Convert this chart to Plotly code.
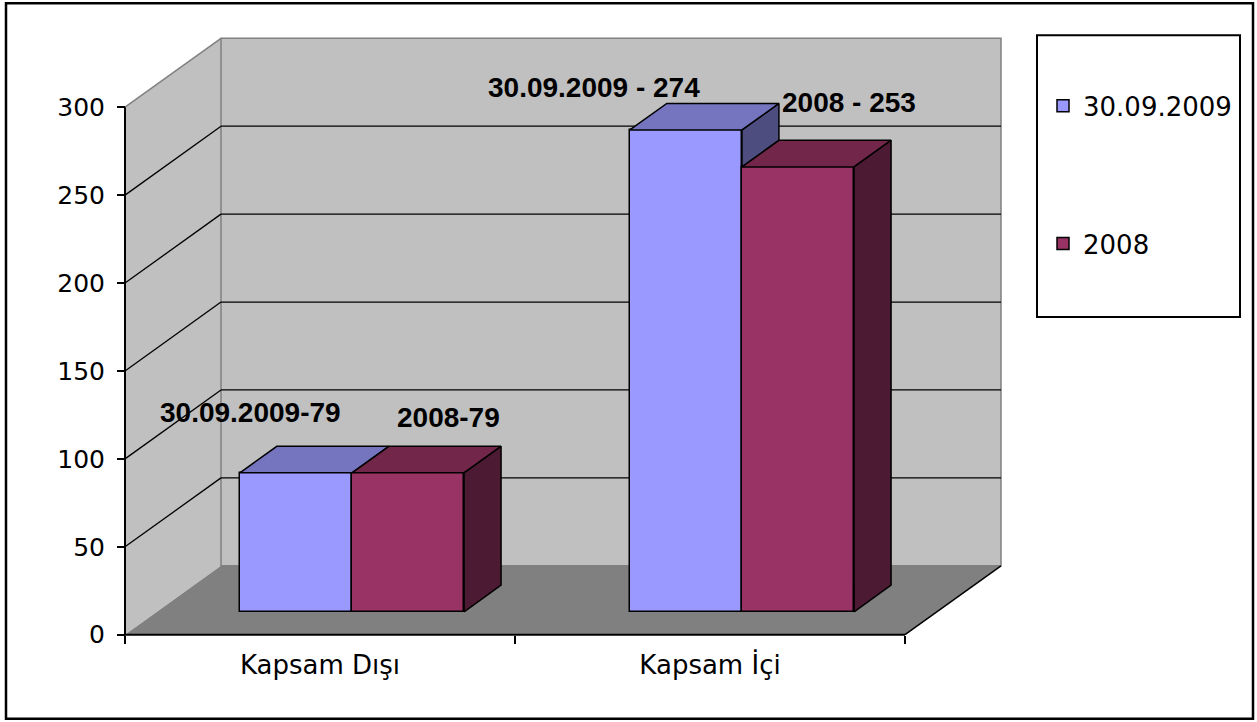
import plotly.graph_objects as go

# ---------------- data ----------------
categories = ["Kapsam Dışı", "Kapsam İçi"]
series_names = ["30.09.2009", "2008"]
values_2009 = [79, 274]
values_2008 = [79, 253]
label_separators = ["-", " - "]
y_ticks = [0, 50, 100, 150, 200, 250, 300]

# label offsets (pixels) from the centre of each bar's top face
label_shift_2009 = [(-64, 47), (-110, 29)]
label_shift_2008 = [(22, 42), (32, 51)]

# ---------------- geometry / style ----------------
W, H = 1257, 722
ORIGIN_PX = (125, 635)        # pixel of front-plane (0, 0)
SX, SY = 1.0, 1.76            # pixels per x unit / per value unit
XW = 780.0                    # front-plane width (x units)
DX, DY = 96.0, 39.2           # depth offset of back wall (x units / value units)
YMAX = 300
D1, D2 = 0.333, 0.718         # bar front / back depth (fraction of full depth)
GROUP = 0.575                 # group width as fraction of category width

x_min, x_max = -5.0, XW + DX + 5
y_min, y_max = -3.0, YMAX + DY + 3

L = ORIGIN_PX[0] + x_min * SX
PW = (x_max - x_min) * SX
R = W - L - PW
B = H - (ORIGIN_PX[1] - y_min * SY)
PH = (y_max - y_min) * SY
T = H - B - PH

def px_x(px):
    return (px - L) / PW

def px_y(py):
    return 1 - (py - T) / PH

WALL = "#C0C0C0"
FLOOR = "#808080"
EDGE = "#808080"
colors = {
    "30.09.2009": ("#9999FF", "#7474BF", "#4D4D80"),
    "2008": ("#993366", "#722649", "#4C1A33"),
}

cat_w = XW / len(categories)
centers = [cat_w * (i + 0.5) for i in range(len(categories))]
bar_w = cat_w * GROUP / 2

fig = go.Figure()

# ---------------- walls, floor and grid (shapes below traces) ----------------
shapes = []
shapes.append(dict(type="path", xref="x", yref="y", layer="below",
                   path=f"M0,0 L{DX},{DY} L{DX},{YMAX+DY} L0,{YMAX} Z",
                   fillcolor=WALL, line=dict(width=0)))
shapes.append(dict(type="rect", xref="x", yref="y", layer="below",
                   x0=DX, y0=DY, x1=XW + DX, y1=YMAX + DY,
                   fillcolor=WALL, line=dict(color=EDGE, width=1.5)))
shapes.append(dict(type="line", xref="x", yref="y", layer="below",
                   x0=0, y0=YMAX, x1=DX, y1=YMAX + DY, line=dict(color=EDGE, width=1.5)))
shapes.append(dict(type="path", xref="x", yref="y", layer="below",
                   path=f"M0,0 L{XW},0 L{XW+DX},{DY} L{DX},{DY} Z",
                   fillcolor=FLOOR, line=dict(width=0)))
for t in y_ticks[1:-1]:
    shapes.append(dict(type="line", xref="x", yref="y", layer="below",
                       x0=0, y0=t, x1=DX, y1=t + DY, line=dict(color="black", width=1.3)))
    shapes.append(dict(type="line", xref="x", yref="y", layer="below",
                       x0=DX, y0=t + DY, x1=XW + DX, y1=t + DY, line=dict(color="black", width=1.3)))
shapes.append(dict(type="line", xref="x", yref="y", layer="below",
                   x0=XW, y0=0, x1=XW + DX, y1=DY, line=dict(color="black", width=1.5)))
shapes.append(dict(type="line", xref="x", yref="y", layer="below",
                   x0=0, y0=0, x1=0, y1=YMAX, line=dict(color="black", width=2)))
shapes.append(dict(type="line", xref="x", yref="y", layer="below",
                   x0=0, y0=0, x1=XW, y1=0, line=dict(color="black", width=2)))
# legend frame and outer frame
shapes.append(dict(type="rect", xref="paper", yref="paper",
                   x0=px_x(1037), y0=px_y(317), x1=px_x(1240), y1=px_y(35),
                   line=dict(color="black", width=2), fillcolor="rgba(0,0,0,0)"))
shapes.append(dict(type="rect", xref="paper", yref="paper",
                   x0=px_x(6), y0=px_y(719), x1=px_x(1253), y1=px_y(3),
                   line=dict(color="black", width=2.5), fillcolor="rgba(0,0,0,0)"))

# ---------------- bars ----------------
series = [("30.09.2009", values_2009, -1), ("2008", values_2008, 1)]

def bar_span(i, side):
    c = centers[i]
    return (c - bar_w, c) if side < 0 else (c, c + bar_w)

# front faces as bar traces
for name, vals, side in series:
    xs = [sum(bar_span(i, side)) / 2 + D1 * DX for i in range(len(categories))]
    fig.add_trace(go.Bar(
        x=xs, y=vals, base=[D1 * DY] * len(vals), width=bar_w,
        name=name, legendgroup=name,
        marker=dict(color=colors[name][0], line=dict(color="black", width=1.5)),
        hoverinfo="skip"))

def poly(xs, ys, color):
    fig.add_trace(go.Scatter(x=xs + [xs[0]], y=ys + [ys[0]], mode="lines", fill="toself",
                             fillcolor=color, line=dict(color="black", width=1.5),
                             showlegend=False, hoverinfo="skip"))

# visible part of first series' side faces (above the neighbouring bar)
for i in range(len(categories)):
    v, nxt = values_2009[i], values_2008[i]
    if v > nxt:
        _, xr = bar_span(i, -1)
        poly([xr + D1 * DX, xr + D1 * DX, xr + D2 * DX, xr + D2 * DX],
             [nxt + D1 * DY, v + D1 * DY, v + D2 * DY, nxt + D2 * DY], colors["30.09.2009"][2])

# top faces and outer side faces
for name, vals, side in series:
    for i, v in enumerate(vals):
        xl, xr = bar_span(i, side)
        poly([xl + D1 * DX, xr + D1 * DX, xr + D2 * DX, xl + D2 * DX],
             [v + D1 * DY, v + D1 * DY, v + D2 * DY, v + D2 * DY], colors[name][1])
for i, v in enumerate(values_2008):
    xl, xr = bar_span(i, 1)
    poly([xr + D1 * DX, xr + D1 * DX, xr + D2 * DX, xr + D2 * DX],
         [D1 * DY, v + D1 * DY, v + D2 * DY, D2 * DY], colors["2008"][2])

# ---------------- data labels ----------------
annotations = []
for name, vals, side, shifts in [("30.09.2009", values_2009, -1, label_shift_2009),
                                 ("2008", values_2008, 1, label_shift_2008)]:
    for i, v in enumerate(vals):
        xl, xr = bar_span(i, side)
        dm = (D1 + D2) / 2
        annotations.append(dict(
            x=(xl + xr) / 2 + dm * DX, y=v + dm * DY, xref="x", yref="y",
            text=f"<b>{name}{label_separators[i]}{v}</b>", showarrow=False,
            xanchor="center", yanchor="middle",
            xshift=shifts[i][0], yshift=shifts[i][1],
            font=dict(family="Liberation Sans, Arial", size=28, color="black")))

fig.update_layout(
    width=W, height=H,
    margin=dict(l=L, r=R, t=T, b=B, autoexpand=False),
    paper_bgcolor="white", plot_bgcolor="white",
    barmode="overlay", bargap=0,
    shapes=shapes, annotations=annotations,
    showlegend=True,
    legend=dict(x=px_x(1043), xanchor="left", y=px_y(82), yanchor="top",
                bgcolor="rgba(0,0,0,0)", borderwidth=0,
                traceorder="grouped", tracegroupgap=101,
                font=dict(family="DejaVu Sans", size=26, color="black")),
    xaxis=dict(range=[x_min, x_max], showgrid=False, zeroline=False, showline=False,
               anchor="free", position=(-y_min * SY) / PH,
               tickmode="array", tickvals=centers, ticktext=categories, ticks="",
               ticklabelstandoff=12,
               minor=dict(tick0=0, dtick=cat_w, ticks="outside", ticklen=8,
                          tickwidth=1.5, tickcolor="black", showgrid=False),
               tickfont=dict(family="DejaVu Sans", size=26, color="black"),
               fixedrange=True),
    yaxis=dict(range=[y_min, y_max], showgrid=False, zeroline=False, showline=False,
               anchor="free", position=(-x_min * SX) / PW,
               tickmode="array", tickvals=y_ticks, ticks="outside", ticklen=8,
               tickwidth=1.5, tickcolor="black", ticklabelstandoff=7,
               tickfont=dict(family="DejaVu Sans", size=25, color="black"),
               fixedrange=True),
)

fig.write_html("out.html", config={"displayModeBar": False},
               post_script="document.body.style.margin='0';")
